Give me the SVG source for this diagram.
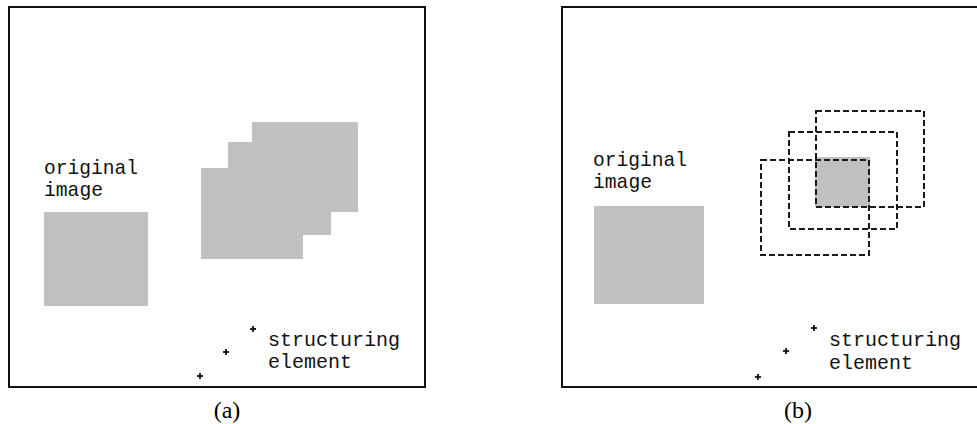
<svg xmlns="http://www.w3.org/2000/svg" width="977" height="424" viewBox="0 0 977 424">
<style>
.frame{fill:none;stroke:#111;stroke-width:2}
.img{fill:#c0c0c0}
.dash{fill:none;stroke:#1a1a1a;stroke-width:2;stroke-dasharray:6 3}
.mono{font-family:"Liberation Mono","DejaVu Sans Mono",monospace;font-size:21px;fill:#111}
.cap{font-family:"Liberation Serif","Times New Roman",serif;font-size:24px;fill:#000;text-anchor:middle}
.se{stroke:#111;stroke-width:1.8}
</style>
<defs>
<g id="pt"><line class="se" x1="-3" y1="0" x2="3" y2="0"/><line class="se" x1="0" y1="-3" x2="0" y2="3"/></g>
</defs>
<rect width="977" height="424" fill="#fff"/>

<g id="panel-a">
<rect class="frame" x="9" y="7" width="416" height="380"/>
<g id="a-original">
<text class="mono" x="44" y="174" textLength="94" lengthAdjust="spacingAndGlyphs">original</text>
<text class="mono" x="44" y="196" textLength="59" lengthAdjust="spacingAndGlyphs">image</text>
<rect class="img" x="44" y="212" width="104" height="94"/>
</g>
<g id="a-dilated">
<rect class="img" x="252" y="122" width="106" height="90"/>
<rect class="img" x="228" y="142" width="103" height="93"/>
<rect class="img" x="201" y="168" width="102" height="91"/>
</g>
<g id="a-se">
<use href="#pt" x="253" y="329"/>
<use href="#pt" x="226" y="352"/>
<use href="#pt" x="200" y="376"/>
<text class="mono" x="268" y="346" textLength="132" lengthAdjust="spacingAndGlyphs">structuring</text>
<text class="mono" x="268" y="368" textLength="84" lengthAdjust="spacingAndGlyphs">element</text>
</g>
<text class="cap" x="227" y="418">(a)</text>
</g>

<g id="panel-b">
<path class="frame" d="M980,7 H562 V387 H980"/>
<g id="b-original">
<text class="mono" x="593" y="166" textLength="94" lengthAdjust="spacingAndGlyphs">original</text>
<text class="mono" x="593" y="188" textLength="59" lengthAdjust="spacingAndGlyphs">image</text>
<rect class="img" x="594" y="206" width="110" height="98"/>
</g>
<g id="b-eroded">
<rect class="img" x="815" y="157" width="55" height="50"/>
</g>
<g id="b-windows">
<rect class="dash" x="816" y="111" width="108" height="96"/>
<rect class="dash" x="789" y="132" width="108" height="97"/>
<rect class="dash" x="761" y="160" width="108" height="95"/>
</g>
<g id="b-se">
<use href="#pt" x="814" y="328"/>
<use href="#pt" x="786" y="351"/>
<use href="#pt" x="758" y="377"/>
<text class="mono" x="829" y="346" textLength="132" lengthAdjust="spacingAndGlyphs">structuring</text>
<text class="mono" x="829" y="369" textLength="84" lengthAdjust="spacingAndGlyphs">element</text>
</g>
<text class="cap" x="798" y="418">(b)</text>
</g>
</svg>
